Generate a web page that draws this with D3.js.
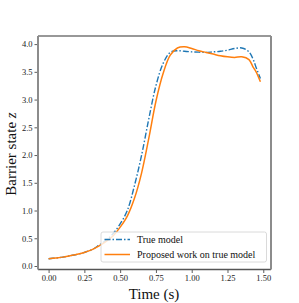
<!DOCTYPE html>
<html>
<head>
<meta charset="utf-8">
<script src="https://cdn.jsdelivr.net/npm/d3@7"></script>
<style>
  body { margin: 0; background: #fff; }
  svg text { font-family: "Liberation Serif", "DejaVu Serif", serif; }
</style>
</head>
<body>
<svg id="chart" width="299" height="303"></svg>
<script>
// values
var times = [0.00, 0.05, 0.10, 0.15, 0.20, 0.25, 0.30, 0.35, 0.40, 0.45, 0.50, 0.55, 0.60, 0.65,
             0.70, 0.75, 0.80, 0.85, 0.90, 0.95, 1.00, 1.05, 1.10, 1.15, 1.20, 1.25, 1.30, 1.35,
             1.40, 1.43, 1.45, 1.48];
var trueModel = [0.13, 0.145, 0.16, 0.185, 0.21, 0.245, 0.29, 0.37, 0.46, 0.58, 0.76, 1.00, 1.45, 2.00,
                 2.65, 3.25, 3.65, 3.85, 3.88, 3.87, 3.86, 3.855, 3.85, 3.86, 3.87, 3.89, 3.92, 3.93,
                 3.86, 3.72, 3.58, 3.38];
var proposed = [0.13, 0.145, 0.16, 0.185, 0.21, 0.245, 0.29, 0.36, 0.44, 0.54, 0.70, 0.90, 1.22, 1.68,
                2.30, 2.97, 3.47, 3.80, 3.93, 3.95, 3.92, 3.88, 3.85, 3.82, 3.79, 3.77, 3.76, 3.77,
                3.72, 3.58, 3.50, 3.32];
var xTicks = [0, 0.25, 0.5, 0.75, 1.0, 1.25, 1.5];
var yTicks = [0, 0.5, 1.0, 1.5, 2.0, 2.5, 3.0, 3.5, 4.0];
var seriesNames = ["True model", "Proposed work on true model"];

var svg = d3.select("#chart"),
    pLeft = 38, pRight = 271, pTop = 36, pBottom = 269.5;

var x = d3.scaleLinear().domain([-0.074, 1.554]).range([pLeft, pRight]);
var y = d3.scaleLinear().domain([-0.063, 4.146]).range([pBottom, pTop]);

var xAxis = svg.append("g")
    .attr("transform", "translate(0," + pBottom + ")")
    .call(d3.axisBottom(x).tickValues(xTicks).tickFormat(d3.format(".2f")).tickSize(3.5).tickPadding(2));
var yAxis = svg.append("g")
    .attr("transform", "translate(" + pLeft + ",0)")
    .call(d3.axisLeft(y).tickValues(yTicks).tickFormat(d3.format(".1f")).tickSize(3.5).tickPadding(2));

[xAxis, yAxis].forEach(function (a) {
    a.select(".domain").remove();
    a.selectAll(".tick line").attr("stroke", "#333").attr("stroke-width", 0.8);
    a.selectAll(".tick text").attr("font-size", 8.5).attr("fill", "#222")
        .style("font-family", "'Liberation Serif', serif");
});

var line = d3.line()
    .x(function (d) { return x(d[0]); })
    .y(function (d) { return y(d[1]); })
    .curve(d3.curveCatmullRom.alpha(0.5));

svg.append("path")
    .datum(d3.zip(times, trueModel))
    .attr("d", line)
    .attr("fill", "none")
    .attr("stroke", "#1f77b4")
    .attr("stroke-width", 1.4)
    .attr("stroke-dasharray", "6,2,1.5,2");

svg.append("path")
    .datum(d3.zip(times, proposed))
    .attr("d", line)
    .attr("fill", "none")
    .attr("stroke", "#ff7f0e")
    .attr("stroke-width", 1.5);

// frame
svg.append("line").attr("x1", pLeft).attr("x2", pRight).attr("y1", pTop).attr("y2", pTop)
    .attr("stroke", "#333").attr("stroke-width", 1.2);
svg.append("line").attr("x1", pLeft).attr("x2", pRight).attr("y1", pBottom).attr("y2", pBottom)
    .attr("stroke", "#555").attr("stroke-width", 1.3);
svg.append("line").attr("x1", pLeft).attr("x2", pLeft).attr("y1", pTop).attr("y2", pBottom)
    .attr("stroke", "#8c8c8c").attr("stroke-width", 2);
svg.append("line").attr("x1", pRight).attr("x2", pRight).attr("y1", pTop).attr("y2", pBottom)
    .attr("stroke", "#8c8c8c").attr("stroke-width", 2);

// legend
var legend = svg.append("g").attr("transform", "translate(101,232)");
legend.append("rect")
    .attr("width", 165.5).attr("height", 30).attr("rx", 2)
    .attr("fill", "#fff").attr("fill-opacity", 0.8)
    .attr("stroke", "#d0d0d0").attr("stroke-width", 0.8);
var rows = legend.selectAll(".row").data(seriesNames).enter().append("g")
    .attr("transform", function (d, i) { return "translate(0," + (7.5 + i * 15) + ")"; });
rows.append("line")
    .attr("x1", 3.5).attr("x2", 29).attr("y1", 0).attr("y2", 0)
    .attr("stroke", function (d, i) { return i === 0 ? "#1f77b4" : "#ff7f0e"; })
    .attr("stroke-width", 1.5)
    .attr("stroke-dasharray", function (d, i) { return i === 0 ? "6,2,1.5,2" : null; });
rows.append("text")
    .attr("x", 36).attr("y", 0).attr("dy", "0.35em")
    .attr("font-size", 10).attr("fill", "#111")
    .text(function (d) { return d; });

// axis titles
svg.append("text")
    .attr("x", 154).attr("y", 299)
    .attr("text-anchor", "middle").attr("font-size", 15).attr("fill", "#111")
    .text("Time (s)");
var yl = svg.append("text")
    .attr("transform", "translate(15.5,154) rotate(-90)")
    .attr("text-anchor", "middle").attr("font-size", 15).attr("fill", "#111");
yl.append("tspan").text("Barrier state ");
yl.append("tspan").attr("font-style", "italic").text("z");
</script>
</body>
</html>
